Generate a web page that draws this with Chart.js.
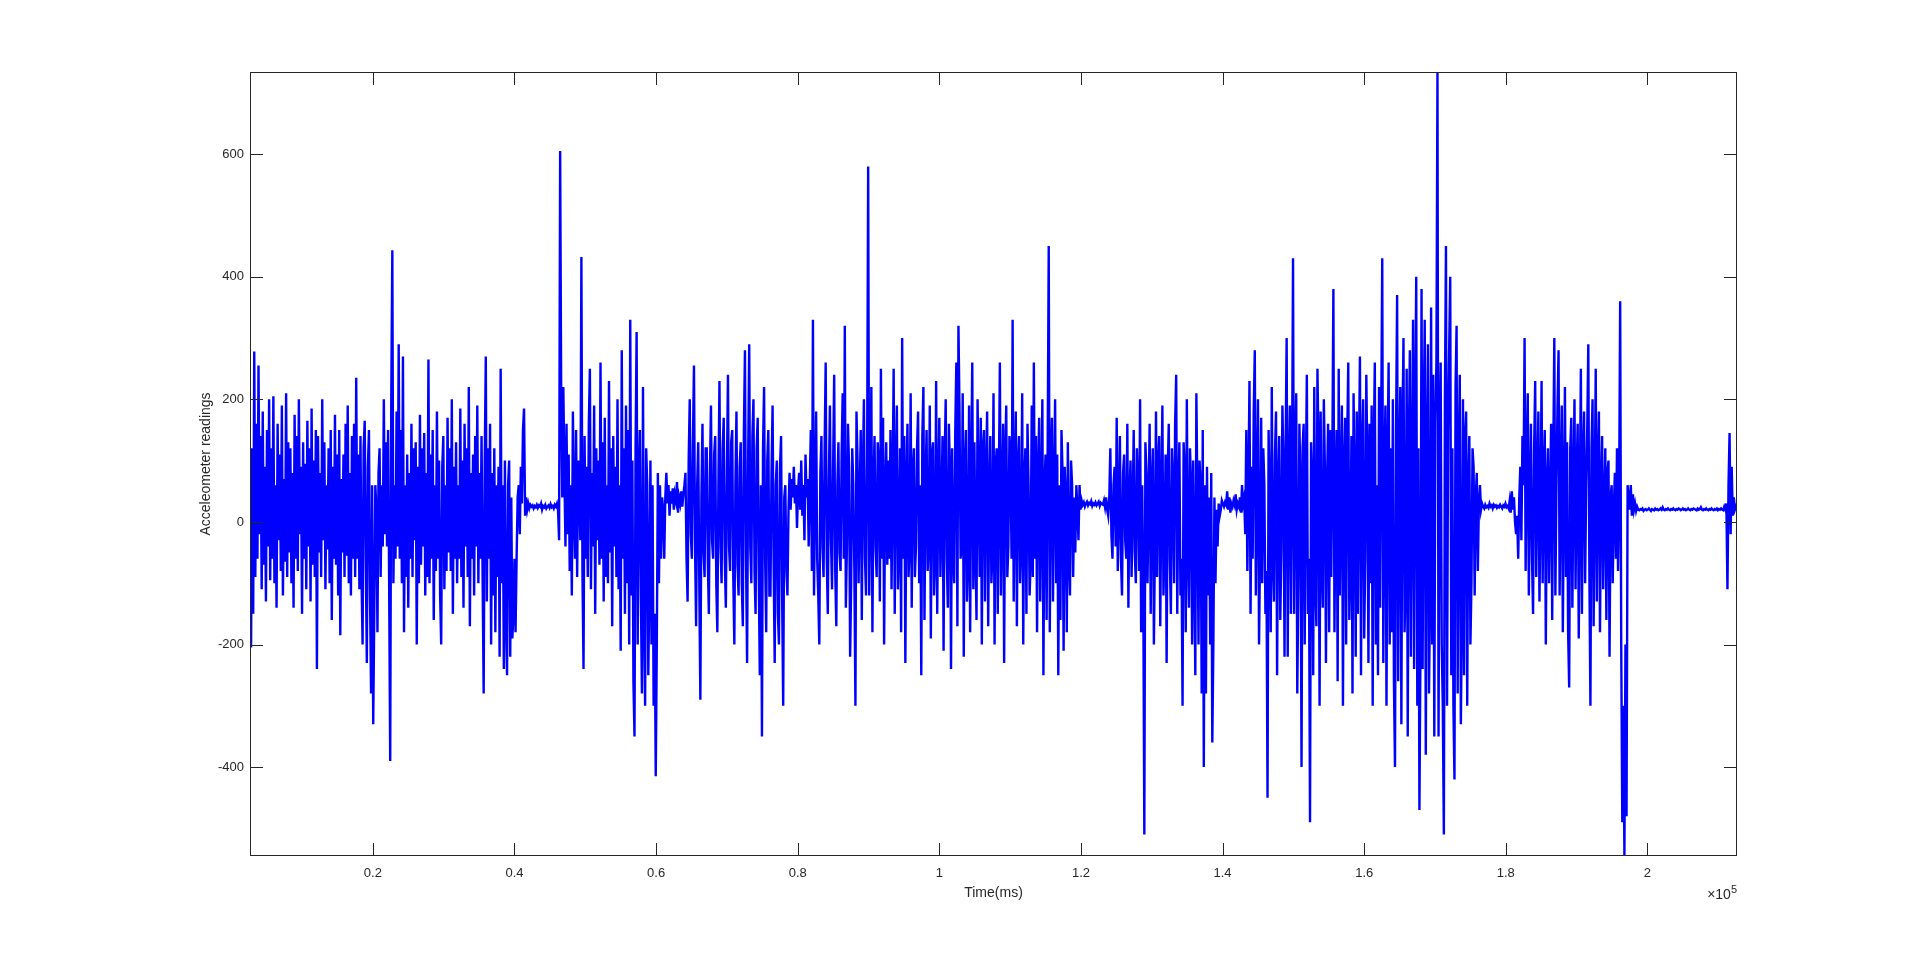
<!DOCTYPE html>
<html>
<head>
<meta charset="utf-8">
<title>Acceleometer readings</title>
<script src="https://cdn.jsdelivr.net/npm/chart.js@4.4.1/dist/chart.umd.min.js"></script>
<style>
  html, body { margin: 0; padding: 0; background: #ffffff; }
  #accel-chart { display: block; }
</style>
</head>
<body>
<canvas id="accel-chart" width="1920" height="963"></canvas>
<script>
// Samples are evenly spaced in time (ms)
const SAMPLE_START = 2650;
const SAMPLE_STEP = 150;

// Readings, split by activity burst / rest period
const burstA = [
  40, -205, 120, -150, 278, -90, 160, -60, 255, -20,
  140, -110, 180, -70, 90, -130, 150, -40, 200, -95,
  120, -60, 205, -100, 60, -140, 160, -30, 110, -80,
  190, -120, 70, -65, 210, -90, 130, -50, 120, -100,
  80, -140, 175, -60, 140, -80, 200, -20, 90, -150,
  130, -60, 95, -110, 165, -40, 120, -130, 185, -70,
  100, -90, 150, -240, 140, -50, 80, -90, 200, -30,
  130, -110, 60, -45, 120, -100, 150, -160, 90, -60,
  175, -70, 110, -120, 150, -185, 70, -50, 110, -90,
  160, -55, 190, -100, 80, -120, 140, -60, 160, -90,
  235, -60, 110, -110, 140, -90, -200, 120, 165, -60,
  -230, 90, 150, -120, -280, 60, -330, -150, 60, 20,
  -180, 80, 120, -90, 60, -40, 200, -20, 130, -40,
  150, -100, -390, 200, 443, -100, 60, -60, 180, -40,
  290, -60, 150, -100, 270, -180, 60, -90, 110, -140,
  80, -60, 160, -90, 120, -30, 130, -200, 90, -100,
  175, -70, 120, -40, 145, -120, 80, -90, 265, -100,
  110, -60, 150, -160, 60, -80, 180, -60, 100, -120,
  -200, 90, 140, -110, 60, -80, 170, -50, 120, -80,
  200, -150, 90, -60, 130, -100, 60, -60, 185, -90,
  100, -140, 160, -40, 120, -90, 220, -170, 80, -60,
  110, -120, 140, -40, 190, -100, 80, -60, 140, -90,
  -280, 100, 270, -130, 120, -60, 160, -200, 80, -120,
  120, -180, 60, -90, 90, -220, 250, -100, 60, -240,
  100, -150, -250, 60, 100, -220, 40, -190, -150, -60,
];
const rest1 = [
  -180, -60, 40, 60, -20, 90, 30, 150, 185, 10,
  40, 20, 30, 22, 28, 25, 27, 22, 26, 24,
  28, 23, 27, 25, 30, 20, 26, 24, 28, 22,
  25, 27, 23, 29, 24, 26, 22, 28, 25, 30,
];
const burstB = [
  20, -30, 605, 200, 40, 220, 80, -40, 160, -20,
  110, -80, 60, -120, 180, 20, -60, 150, -90, 100,
  60, -30, 432, -80, -240, 140, -60, 90, -90, 160,
  250, -110, 80, -40, 190, -150, 120, -30, 100, -70,
  260, -60, 130, -130, 170, -90, 60, -100, 230, -50,
  120, -170, 140, -40, 90, -90, 200, -110, 60, -210,
  280, -60, 120, -150, 190, -100, 150, -200, 330, -120,
  100, -260, -350, 120, 310, -200, 60, 150, -120, -280,
  220, -150, -300, 120, 60, -250, -100, 100, -200, 60,
  -300, -150, -415, -200, 80, -100, 60, -60, 40, 20,
  -60, 40, 80, 30,
];
const rest2 = [60, 10, 50, 30, 55, 20, 45, 35, 65, 15, 40, 30, 50, 25, 45, 60];
const burstC = [
  80, -60, -130, 100, 200, -20, -60, 130, 255, -40,
  -170, 60, 130, -100, -290, 40, 160, -50, -90, 120,
  120, -60, -150, 80, 190, -30, -60, 110, 140, -100,
  -180, 60, 230, -40, -100, 120, 170, -60, -140, 80,
  240, -40, -80, 130, 150, -90, -200, 60, 180, -70,
  -120, 90, 130, -100, -170, 150, 280, -60, -230, 100,
  290, -40, -100, 140, 200, -80, -150, 120, 170, -90,
  -250, 60, -350, 120, 220, -60, -180, 100, 150, -120,
  -120, 80, 190, -70, -230, 60, 100, -150, -200, 90,
  140, -120, -300, 40, 60, -80, -120, 20,
];
const rest3 = [80, 20, 70, 40, 90, 30, 60, -10, 50, 80, 20, 100, 10, 60, -30, 110, 40, 70];
const burstD = [
  -40, 60, 150, -80, 330, -120, 40, 180, -60, -120,
  -200, 80, 140, -40, -90, 120, 260, -60, -150, 70,
  190, -30, -110, 90, 240, -80, -170, 60, 130, -50,
  -80, 110, 210, -60, 320, -140, -40, 160, 90, -220,
  -100, 120, 60, -80, -300, 180, 100, -100, 40, 150,
  -160, 80, 200, -60, -120, 100, 580, -120, 40, 220,
  -180, 60, 140, -40, -90, 130, 90, -130, 250, -60,
  170, -200, 50, 130, -70, 100, -60, 150, -110, 60,
  250, -150, 80, 190, -110, -40, 120, -180, 300, -60,
  140, -230, 60, 160, -90, -40, 210, -140, 80, 120,
  -90, -40, 120, 180, -100, 60, -250, 140, 220, -160,
  60, 150, -80, -30, 190, -190, 110, 130, -120, -60,
  230, -150, 50, 170, -90, 20, 140, -210, 100, 200,
  -60, -140, 160, 80, -240, 120, -50, -100, 150, 260,
  -170, 320, 180, -60, -40, 210, -220, 90, 150, -130,
  -60, 190, -180, 80, 260, -110, 130, -40, -160, 200,
  60, -90, 170, -200, 120, 150, -130, 80, 180, -170,
  40, 140, -100, -50, 210, -200, 90, 120, -150, 60,
  260, -120, 30, 160, -230, 110, 190, -90, -40, 140,
  100, -60, 330, -130, 50, 180, -170, 90, 140, -100,
  -30, 210, -200, 70, 120, -150, 160, 60, -120, -60,
  190, -90, 260, -60, 140, -180, 80, 170, -130, 40,
  200, -250, 60, 110, -160, 120, 450, -180, 90, 170,
  -130, 50, 200, -100, 110, -250, 60, -160, 150, 80,
  -210, 90, 40, -180, 130, -60, -120, 100, 60, -90,
  40, -50, 60, 20, -30, 60,
];
const rest4 = [
  20, 35, 28, 32, 25, 30, 33, 27, 31, 29, 34, 26, 30,
  28, 32, 27, 30, 33, 26, 31, 29, 28, 35, 24, 40, 20,
];
const burstE = [
  10, 40, 120, -20, -60, 60, 90, -40, 170, -80,
  20, 140, -60, -120, 80, 110, -30, -60, 160, -140,
  40, 100, -90, 20, 150, -50, -100, 120, 60, -80,
  200, -180, 60, -100, -510, 130, 80, -100, 40, 160,
  -150, 60, 120, -200, -40, 180, -90, 90, 140, -170,
  40, 190, -120, -40, 110, -230, 80, 160, -60, -150,
  120, 60, -100, 160, 240, -150, 40, 130, -120, -60,
  -300, 130, 80, -180, 200, -40, -140, 120, 60, -200,
  100, -60, -250, 210, 40, -200, 100, 60, -280, 150,
  -400, 60, -280, 90, -120, 40, -200, 80, -360, -200,
  40, -100, 20, -40, 30, 10,
];
const rest5 = [
  20, 35, 30, 25, 32, 28, 50, 20, 40, 15, 30,
  25, 35, 28, 45, 20, 30, 25, 40, 15, 60, 30,
];
const burstF = [
  40, -20, 150, -80, 60, 230, -150, 90, -60, 180,
  280, -120, 60, 200, -200, -40, 170, -100, 120, 60,
  -150, -80, -450, 150, 40, -180, 220, -60, -130, 110,
  180, -250, 60, 140, -160, -50, 190, 90, -220, 120,
  300, -220, 80, 190, -150, 60, 430, -150, 100, 210,
  -280, -100, 160, 60, -400, 120, 160, -200, 60, 240,
  -150, -60, -490, 130, 70, -250, 220, -100, -170, 250,
  120, -300, 180, -60, -140, 200, 90, -230, 60, 160,
  -180, 150, -90, 100, 380, -180, 40, 150, -260, 250,
  -120, 60, 190, -300, 90, 170, -200, 130, 260, -160,
  -60, 140, -280, 210, 60, -220, 180, -150, 100, 270,
  -250, 120, 200, -190, -60, 240, 90, -230, 160, -100,
  190, -300, 120, 260, -200, 60, -250, 220, -140, 160,
  430, -230, 80, 190, -300, 100, 260, -200, 120, -180,
  200, -260, -400, 150, 370, -260, 90, 220, -330, 150,
  300, -180, -100, 250, -350, 120, 280, -220, 60, 330,
  -240, 180, 400, -300, 120, -470, -200, 380, -240, 160,
  330, -380, 100, 290, -280, -120, 350, -200, 240, -350,
  160, 260, 734, -350, 120, 260, -200, -300, -510, 200,
  450, -300, 150, 280, 400, -250, 120, -300, -420, 220,
  320, -280, 100, 240, -330, -150, 200, -250, 140, 180,
  -300, 60, 140, -200, -100, 120, 90, -120, 40, 80,
  -80, 30, 60, 20,
];
const rest6 = [
  30, 25, 22, 28, 24, 26, 23, 30, 25, 27, 22, 28, 25, 27, 23, 26,
  24, 28, 25, 22, 27, 25, 30, 24, 26, 22, 35, 15, 50, 20, 40, 0,
];
const burstG = [
  -20, 10, -60, 40, 90, -30, 140, 60, 300, -80,
  100, 210, -120, 40, 160, -60, -150, 120, 230, -90,
  60, 180, -130, 20, 230, -100, 80, 150, -200, 60,
  120, -100, 40, 160, -160, 100, 300, -120, 60, 190,
  280, -120, 60, 190, -180, 40, 220, -90, 130, -180,
  -270, 120, 170, -140, 60, 200, -110, 80, 160, -190,
  40, 250, -150, 100, 180, -100, 60, 150, 290, -80,
  -300, 120, 200, -170, 40, 250, -130, 90, 180, -180,
  60, 140, -110, 30, 120, -160, 80, 100, -220, 40,
  60, -100, 20, 80, -60, 120, -80, 40, 360, -200,
  -490, -300, -545, -200, -480, 60, 40, 20,
];
const rest7 = [
  60, 10, 45, 20, 30, 18, 25, 20, 19, 21,
  20, 22, 18, 20, 21, 19, 20, 22, 20, 18,
  21, 20, 19, 22, 20, 21, 19, 20, 22, 20,
  24, 20, 19, 21, 20, 22, 20, 19, 21, 20,
  22, 20, 19, 21, 20, 22, 21, 19, 20, 22,
  20, 21, 19, 20, 22, 20, 19, 21, 20, 22,
  21, 20, 19, 22, 20, 21, 24, 20, 19, 21,
  20, 22, 20, 19, 21, 20, 22, 20, 19, 21,
  20, 22, 19, 21, 20, 22, 20, 19, 25, 20,
  30, -110, 60, 145, -20, 90, 10, 40, 20, 25,
  20,
];

// Axis ranges and tick positions
const Y_MIN = -545;
const Y_MAX = 734;
const X_MIN = 2650;
const X_MAX = 212650;
const X_TICKS = [20000, 40000, 60000, 80000, 100000, 120000, 140000, 160000, 180000, 200000];
const Y_TICKS = [-400, -200, 0, 200, 400, 600];

const TEXT_COLOR = "#262626";
const FONT_FAMILY = "'Liberation Sans', Arial, sans-serif";
const TICK_LEN = 13;

const readings = [].concat(
  burstA, rest1, burstB, rest2, burstC, rest3, burstD,
  rest4, burstE, rest5, burstF, rest6, burstG, rest7
);
const points = readings.map((value, i) => ({
  x: SAMPLE_START + i * SAMPLE_STEP,
  y: value,
}));

// MATLAB style box: frame, inward ticks on all sides, x10^5 exponent
const axesBoxPlugin = {
  id: "axesBox",
  afterDatasetsDraw(chart) {
    const { ctx, chartArea: area, scales } = chart;
    ctx.save();
    ctx.strokeStyle = TEXT_COLOR;
    ctx.lineWidth = 1;
    ctx.beginPath();
    scales.x.ticks.forEach((tick) => {
      const px = Math.round(scales.x.getPixelForValue(tick.value)) + 0.5;
      ctx.moveTo(px, area.bottom);
      ctx.lineTo(px, area.bottom - TICK_LEN);
      ctx.moveTo(px, area.top);
      ctx.lineTo(px, area.top + TICK_LEN);
    });
    scales.y.ticks.forEach((tick) => {
      const py = Math.round(scales.y.getPixelForValue(tick.value)) + 0.5;
      ctx.moveTo(area.left, py);
      ctx.lineTo(area.left + TICK_LEN, py);
      ctx.moveTo(area.right, py);
      ctx.lineTo(area.right - TICK_LEN, py);
    });
    ctx.stroke();
    ctx.strokeRect(
      Math.round(area.left) + 0.5,
      Math.round(area.top) + 0.5,
      Math.round(area.right - area.left) - 1,
      Math.round(area.bottom - area.top) - 1
    );

    ctx.fillStyle = TEXT_COLOR;
    ctx.textAlign = "right";
    ctx.textBaseline = "alphabetic";
    ctx.font = `11px ${FONT_FAMILY}`;
    ctx.fillText("5", area.right, area.bottom + 37);
    const expWidth = ctx.measureText("5").width;
    ctx.font = `14px ${FONT_FAMILY}`;
    ctx.fillText("\u00d710", area.right - expWidth, area.bottom + 43);
    ctx.restore();
  },
};

const config = {
  type: "line",
  data: {
    datasets: [
      {
        data: points,
        borderColor: "#0000ff",
        borderWidth: 2.4,
        pointRadius: 0,
        tension: 0,
        fill: false,
      },
    ],
  },
  options: {
    responsive: false,
    animation: false,
    devicePixelRatio: 1,
    layout: {
      padding: { left: 198, top: 72, right: 183, bottom: 61 },
    },
    plugins: {
      legend: { display: false },
      tooltip: { enabled: false },
    },
    scales: {
      x: {
        type: "linear",
        min: X_MIN,
        max: X_MAX,
        grid: { display: false, drawTicks: false },
        border: { display: false },
        afterBuildTicks: (scale) => {
          scale.ticks = X_TICKS.map((value) => ({ value }));
        },
        ticks: {
          autoSkip: false,
          maxRotation: 0,
          padding: 10,
          color: TEXT_COLOR,
          font: { family: FONT_FAMILY, size: 13 },
          callback: (value) => String(Number((value / 1e5).toFixed(1))),
        },
        title: {
          display: true,
          text: "Time(ms)",
          color: TEXT_COLOR,
          padding: { top: 0, bottom: 0 },
          font: { family: FONT_FAMILY, size: 14 },
        },
        afterFit: (scale) => {
          scale.height = 46;
        },
      },
      y: {
        min: Y_MIN,
        max: Y_MAX,
        grid: { display: false, drawTicks: false },
        border: { display: false },
        afterBuildTicks: (scale) => {
          scale.ticks = Y_TICKS.map((value) => ({ value }));
        },
        ticks: {
          padding: 6,
          color: TEXT_COLOR,
          font: { family: FONT_FAMILY, size: 13 },
        },
        title: {
          display: true,
          text: "Acceleometer readings",
          color: TEXT_COLOR,
          padding: { top: 0, bottom: 0 },
          font: { family: FONT_FAMILY, size: 14 },
        },
        afterFit: (scale) => {
          scale.width = 52;
        },
      },
    },
  },
  plugins: [axesBoxPlugin],
};

new Chart(document.getElementById("accel-chart"), config);
</script>
</body>
</html>
